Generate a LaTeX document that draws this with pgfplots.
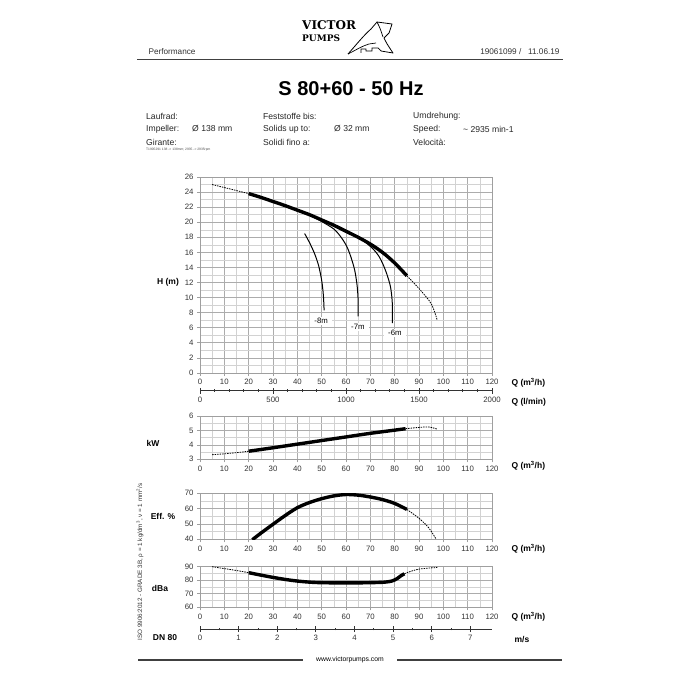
\documentclass[border=0pt]{standalone}
\usepackage{pgfplots}
\pgfplotsset{compat=1.18}
\usepackage{fontspec}
\setmainfont{Liberation Sans}
\newfontfamily\logofont{DejaVu Serif}
\pgfplotsset{
  pumpaxis/.style={scale only axis, width=292pt, anchor=south west,
    xmin=0, xmax=120, xtick={0,10,...,120}, minor x tick num=1, minor y tick num=1,
    grid=both, major grid style={gray!65, line width=0.7pt},
    minor grid style={gray!35, line width=0.5pt},
    axis line style={gray!75, line width=0.7pt},
    tick style={gray!75, line width=0.7pt},
    major tick length=3pt, minor tick length=0pt, tick align=outside,
    xtick pos=lower, ytick pos=left,
    ticklabel style={font=\fontsize{7.8}{9}\selectfont, text=black!80},
    /pgf/number format/assume math mode=true},
  secaxis/.style={scale only axis, width=292pt, height=1pt, anchor=south west,
    ymin=0, ymax=1, axis y line=none, axis x line*=bottom,
    axis line style={black!80, line width=0.8pt},
    tick style={black!80, line width=0.8pt},
    major tick length=6pt, minor tick length=2.5pt, tick align=center,
    ticklabel style={font=\fontsize{7.8}{9}\selectfont, text=black!80},
    /pgf/number format/1000 sep={},
    /pgf/number format/assume math mode=true},
  dash/.style={black, line width=0.8pt, dash pattern=on 1.5pt off 1pt, smooth},
  thick curve/.style={black, line width=3.4pt, smooth},
  thin curve/.style={black, line width=1pt, smooth}
}
\begin{document}
\begin{tikzpicture}[x=1pt,y=1pt]
\useasboundingbox (0,0) rectangle (700,-700);
\fill[white] (0,0) rectangle (700,-700);
% header
\node[font=\logofont\bfseries\fontsize{12}{14}\selectfont, anchor=west, inner sep=0] at (302,-25) {VICTOR};
\node[font=\logofont\bfseries\fontsize{9}{10}\selectfont, anchor=west, inner sep=0] at (302,-38) {PUMPS};
\draw[line width=0.8pt, line join=round] (348,-54) .. controls (356,-45) and (364,-35) .. (371,-29) -- (377,-22) -- (392,-24) -- (389,-33) -- (384,-38) .. controls (387,-44) .. (393,-53) -- (381,-51);
\draw[line width=0.7pt] (348,-54) .. controls (356,-50) and (362,-46) .. (369,-44) -- (376,-43);
\draw[line width=0.7pt] (377,-22) .. controls (380,-28) .. (383,-37);
\draw[line width=0.7pt] (361,-53) -- (361,-49) -- (366,-49) -- (366,-51) -- (372,-51) -- (372,-48) -- (378,-48) -- (381,-51);
\node[anchor=west, font=\fontsize{8.2}{9}\selectfont, text=black!80] at (145,-52) {Performance};
\node[anchor=east, font=\fontsize{8.2}{9}\selectfont, text=black!80] at (563,-52) {19061099 /\ \ \ 11.06.19};
\draw[black!75, line width=1.4pt] (137,-59.5) -- (563,-59.5);
\node[font=\bfseries\fontsize{20}{24}\selectfont] at (351,-89) {S 80+60 - 50 Hz};
% specs
\begin{scope}[every node/.style={anchor=west, font=\fontsize{8.6}{10}\selectfont, text=black!85, inner sep=0}]
\node at (146,-116) {Laufrad:};
\node at (146,-129) {Impeller:};
\node at (146,-142) {Girante:};
\node at (192,-129) {Ø 138 mm};
\node at (263,-116) {Feststoffe bis:};
\node at (263,-129) {Solids up to:};
\node at (263,-142) {Solidi fino a:};
\node at (334,-129) {Ø 32 mm};
\node at (413,-116) {Umdrehung:};
\node at (413,-129) {Speed:};
\node at (413,-142) {Velocità:};
\node at (463,-129) {\textasciitilde\ 2935 min-1};
\end{scope}
\node[anchor=west, font=\fontsize{3.3}{4}\selectfont, text=black!70, inner sep=0] at (146,-150) {T1905291 138 -> 138mm; 2935 -> 2935rpm};
% side labels
\begin{scope}[every node/.style={font=\bfseries\fontsize{8.5}{10}\selectfont}]
\node at (168,-282) {H (m)};
\node at (153,-443) {kW};
\node at (163,-516) {Eff. \%};
\node at (160,-588) {dBa};
\node at (165,-638) {DN 80};
\node[anchor=west] at (508,-383) {Q (m\textsuperscript{3}/h)};
\node[anchor=west] at (508,-402.5) {Q (l/min)};
\node[anchor=west] at (508,-466) {Q (m\textsuperscript{3}/h)};
\node[anchor=west] at (508,-549) {Q (m\textsuperscript{3}/h)};
\node[anchor=west] at (508,-617) {Q (m\textsuperscript{3}/h)};
\node at (522,-639) {m/s};
\end{scope}
\node[rotate=90, font=\fontsize{6.3}{7}\selectfont, text=black!80] at (140,-562) {ISO 9906:2012 - GRADE 3B, ρ = 1 kg/dm\textsuperscript{3}, ν = 1 mm\textsuperscript{2}/s};
% footer
\draw[black!75, line width=1.2pt] (138,-660) -- (303,-660);
\draw[black!75, line width=1.2pt] (397,-660) -- (562,-660);
\node[font=\fontsize{6.8}{8}\selectfont] at (350,-660) {www.victorpumps.com};

% H chart
\begin{axis}[pumpaxis, at={(200pt,-373pt)}, height=196pt, ymin=0, ymax=26, ytick={0,2,...,26}]
\addplot[dash] coordinates {(5,25.0)(10,24.6)(15,24.2)(20,23.8)};
\addplot[thick curve] coordinates {(20,23.8)(25,23.3)(30,22.75)(35,22.2)(40,21.6)(45,21.0)(50,20.3)(55,19.6)(60,18.8)(65,18.0)(70,17.1)(75,16.0)(80,14.6)(85,12.9)};
\addplot[dash] coordinates {(85,12.9)(90,11.2)(95,9.2)(97.5,7.0)};
\addplot[thin curve] coordinates {(43,18.5)(45,17.3)(47,15.9)(48.7,14.3)(50,12.3)(50.7,10.3)(51,8.3)};
\addplot[thin curve] coordinates {(46,20.8)(50,20.1)(55,19.1)(58,18.0)(60.3,16.8)(62,15.4)(63.6,13.6)(64.6,11.5)(65,9.5)(65,7.5)};
\addplot[thin curve] coordinates {(67,17.6)(71,16.5)(73.5,15.5)(75.5,14.2)(77,12.9)(78.3,11.4)(79,9.4)(79.1,6.6)};
\node[fill=white, inner xsep=4pt, inner ysep=1pt, font=\fontsize{7.8}{9}\selectfont] at (axis cs:49.8,6.9) {-8m};
\node[fill=white, inner xsep=4pt, inner ysep=1pt, font=\fontsize{7.8}{9}\selectfont] at (axis cs:64.9,6.1) {-7m};
\node[fill=white, inner xsep=4pt, inner ysep=1pt, font=\fontsize{7.8}{9}\selectfont] at (axis cs:80.1,5.3) {-6m};
\end{axis}
% l/min axis
\begin{axis}[secaxis, at={(200pt,-390.7pt)}, xmin=0, xmax=2000, xtick={0,500,...,2000}, minor x tick num=4]
\end{axis}
% kW chart
\begin{axis}[pumpaxis, at={(200pt,-459.3pt)}, height=43.3pt, ymin=3, ymax=6, ytick={3,4,5,6}]
\addplot[dash] coordinates {(5,3.32)(10,3.38)(15,3.46)(20,3.56)};
\addplot[thick curve] coordinates {(20,3.56)(30,3.8)(40,4.05)(50,4.3)(60,4.55)(70,4.8)(80,5.02)(84.5,5.12)};
\addplot[dash] coordinates {(84.5,5.12)(90,5.21)(94,5.24)(97.3,5.1)};
\end{axis}
% Eff chart
\begin{axis}[pumpaxis, at={(200pt,-539.3pt)}, height=46pt, ymin=40, ymax=70, ytick={40,50,60,70}]
\addplot[thick curve] coordinates {(21.5,39.7)(25,44)(30,49.8)(35,55.5)(40,60.6)(45,64.0)(50,66.5)(55,68.3)(60,69.2)(65,68.8)(70,67.6)(75,65.9)(80,63.4)(85,59.5)};
\addplot[dash] coordinates {(85,59.5)(90,53.7)(94,47.5)(97,40.2)};
\end{axis}
% dBa chart
\begin{axis}[pumpaxis, at={(200pt,-607.3pt)}, height=40.6pt, ymin=60, ymax=90, ytick={60,70,80,90}]
\addplot[dash] coordinates {(5,90)(10,88.6)(15,87.2)(20,85.6)};
\addplot[thick curve] coordinates {(20,85.6)(25,83.8)(30,82.1)(35,80.6)(40,79.4)(45,78.6)(50,78.2)(60,78.0)(70,78.2)(76,78.6)(79,79.5)(81,81.2)(82.5,83.2)(84,84.8)};
\addplot[dash] coordinates {(84,84.8)(87,86.8)(90,88.2)(94,89.0)(97.5,89.4)};
\end{axis}
% DN80 axis
\begin{axis}[secaxis, at={(200pt,-629pt)}, xmin=0, xmax=7.56, xtick={0,1,...,7}, minor x tick num=1]
\end{axis}
\end{tikzpicture}
\end{document}
